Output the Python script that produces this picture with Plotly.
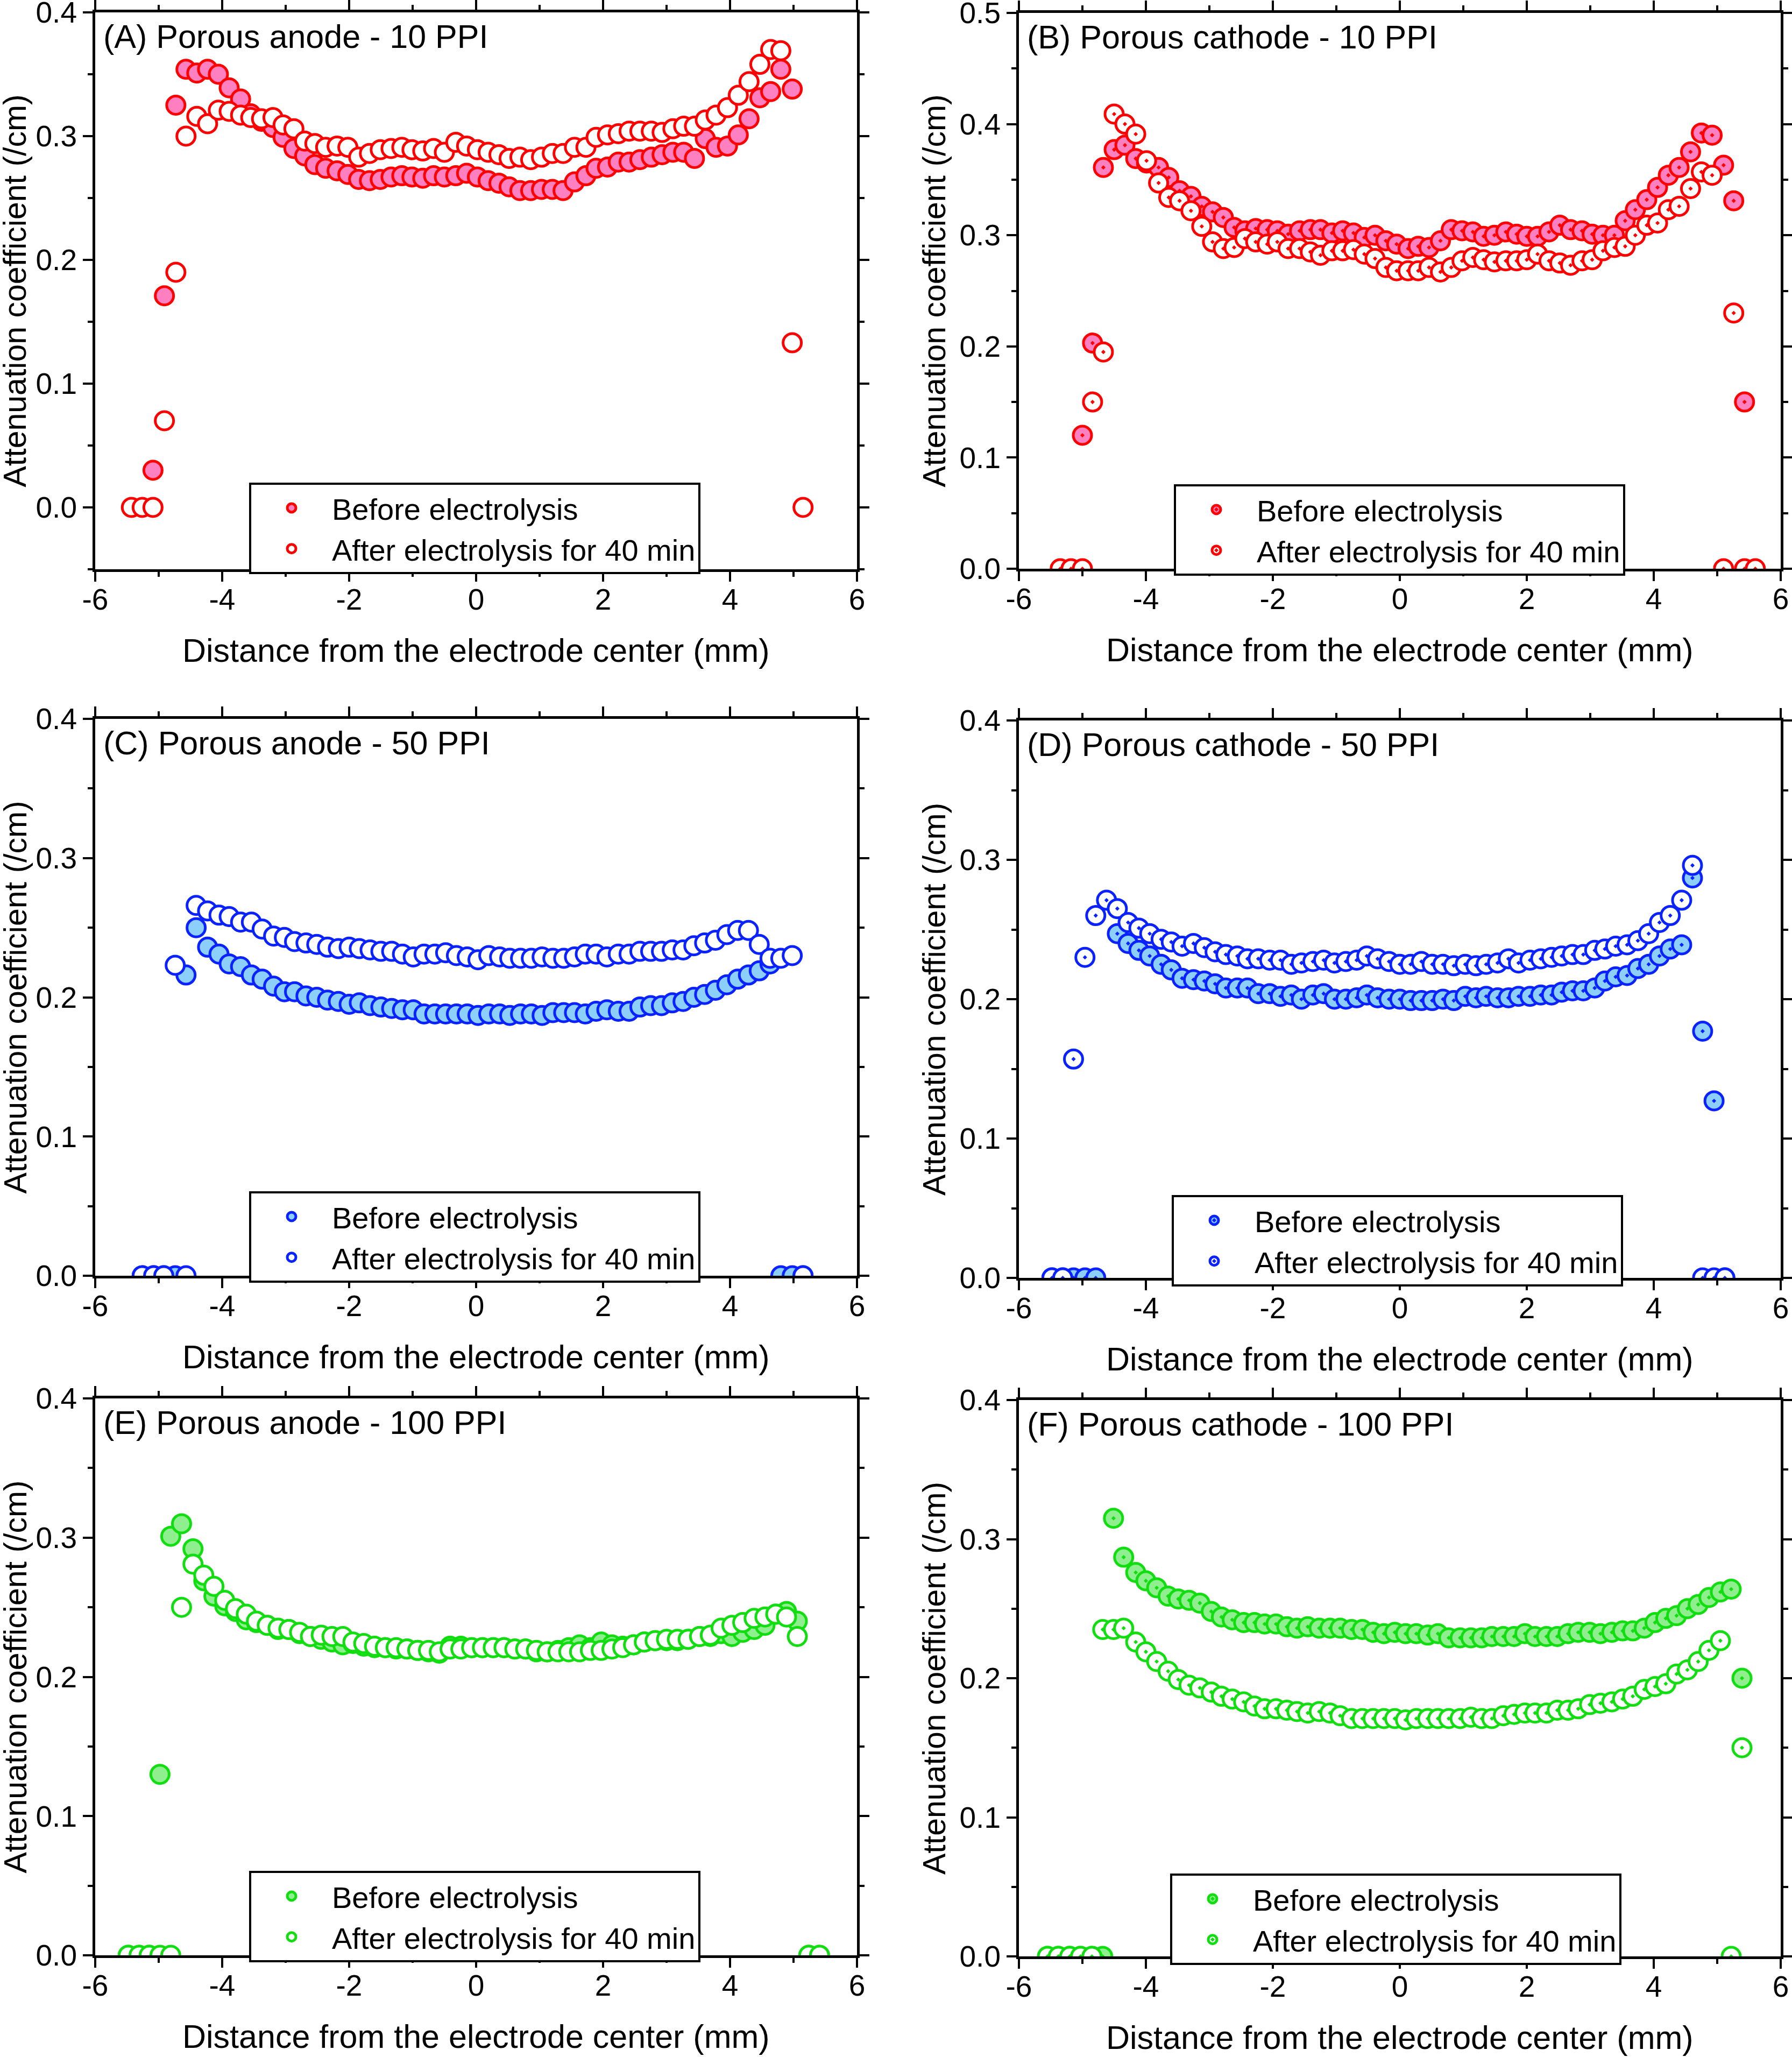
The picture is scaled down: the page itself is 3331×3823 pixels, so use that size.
import plotly.graph_objs as go

# ---- data (mm, 1/cm) ----
x_a = [-5.43, -5.26, -5.09, -4.91, -4.73, -4.57, -4.40, -4.23, -4.06, -3.89, -3.71, -3.55, -3.38,
       -3.20, -3.04, -2.87, -2.70, -2.54, -2.37, -2.19, -2.02, -1.85, -1.68, -1.51, -1.34, -1.17,
       -1.01, -0.84, -0.67, -0.50, -0.32, -0.15, 0.02, 0.19, 0.36, 0.52, 0.69, 0.86, 1.03, 1.20,
       1.37, 1.55, 1.73, 1.89, 2.07, 2.24, 2.41, 2.58, 2.76, 2.93, 3.10, 3.27, 3.44, 3.61, 3.78,
       3.96, 4.13, 4.30, 4.47, 4.64, 4.80, 4.98, 5.15]
a_before = [None, None, 0.030, 0.171, 0.325, 0.354, 0.351, 0.354, 0.350, 0.339, 0.330, 0.318, 0.312,
            0.307, 0.299, 0.290, 0.284, 0.277, 0.274, 0.272, 0.269, 0.265, 0.264, 0.265, 0.267, 0.268,
            0.267, 0.266, 0.268, 0.267, 0.268, 0.270, 0.267, 0.264, 0.262, 0.259, 0.256, 0.256, 0.257,
            0.257, 0.256, 0.263, 0.268, 0.274, 0.275, 0.279, 0.279, 0.281, 0.283, 0.285, 0.287, 0.287,
            0.282, 0.298, 0.291, 0.292, 0.301, 0.314, 0.331, 0.336, 0.354, 0.338, None]
a_after = [0.0, 0.0, 0.0, 0.070, 0.190, 0.300, 0.316, 0.310, 0.321, 0.320, 0.317, 0.315, 0.314,
           0.315, 0.309, 0.306, 0.296, 0.294, 0.291, 0.292, 0.291, 0.283, 0.286, 0.289, 0.290, 0.291,
           0.289, 0.288, 0.290, 0.287, 0.295, 0.292, 0.289, 0.287, 0.285, 0.282, 0.283, 0.281, 0.283,
           0.286, 0.286, 0.291, 0.291, 0.299, 0.301, 0.302, 0.304, 0.304, 0.304, 0.303, 0.306, 0.308,
           0.308, 0.313, 0.317, 0.323, 0.333, 0.344, 0.358, 0.370, 0.369, 0.133, 0.0]

x_b = [-5.35, -5.18, -5.00, -4.84, -4.67, -4.50, -4.33, -4.16, -3.99, -3.80, -3.64, -3.47, -3.29,
       -3.12, -2.95, -2.78, -2.61, -2.44, -2.27, -2.09, -1.93, -1.76, -1.58, -1.41, -1.25, -1.07,
       -0.90, -0.73, -0.56, -0.39, -0.22, -0.05, 0.13, 0.29, 0.46, 0.64, 0.81, 0.98, 1.15, 1.32,
       1.49, 1.67, 1.84, 2.00, 2.17, 2.35, 2.52, 2.69, 2.87, 3.03, 3.20, 3.38, 3.55, 3.71, 3.89,
       4.06, 4.23, 4.40, 4.58, 4.75, 4.92, 5.10, 5.26, 5.43, 5.60]
b_before = [None, None, 0.120, 0.203, 0.361, 0.377, 0.381, 0.369, 0.365, 0.361, 0.352, 0.340, 0.335,
            0.326, 0.321, 0.316, 0.307, 0.304, 0.306, 0.305, 0.304, 0.301, 0.304, 0.305, 0.305, 0.302,
            0.304, 0.302, 0.298, 0.300, 0.295, 0.292, 0.288, 0.290, 0.289, 0.295, 0.305, 0.304, 0.303,
            0.299, 0.300, 0.303, 0.301, 0.299, 0.299, 0.303, 0.309, 0.305, 0.304, 0.301, 0.300, 0.300,
            0.313, 0.323, 0.332, 0.343, 0.354, 0.361, 0.375, 0.392, 0.390, 0.363, 0.331, 0.150, None]
b_after = [0.0, 0.0, 0.0, 0.150, 0.195, 0.409, 0.400, 0.391, 0.367, 0.347, 0.334, 0.331, 0.322,
           0.308, 0.294, 0.288, 0.289, 0.297, 0.294, 0.292, 0.294, 0.288, 0.288, 0.285, 0.282, 0.286,
           0.286, 0.287, 0.283, 0.279, 0.271, 0.268, 0.268, 0.268, 0.271, 0.267, 0.271, 0.277, 0.280,
           0.278, 0.276, 0.277, 0.277, 0.278, 0.283, 0.277, 0.275, 0.273, 0.277, 0.278, 0.286, 0.289,
           0.290, 0.300, 0.309, 0.311, 0.323, 0.326, 0.342, 0.357, 0.354, 0.0, 0.230, 0.0, 0.0]

x_c = [-5.26, -5.08, -4.92, -4.74, -4.57, -4.41, -4.23, -4.05, -3.89, -3.71, -3.54, -3.37, -3.19,
       -3.02, -2.86, -2.68, -2.51, -2.34, -2.17, -2.00, -1.84, -1.67, -1.50, -1.33, -1.16, -0.99,
       -0.82, -0.65, -0.48, -0.31, -0.14, 0.03, 0.20, 0.37, 0.53, 0.70, 0.87, 1.04, 1.21, 1.38,
       1.55, 1.72, 1.89, 2.06, 2.24, 2.41, 2.58, 2.75, 2.92, 3.09, 3.26, 3.43, 3.60, 3.77, 3.95,
       4.12, 4.29, 4.46, 4.63, 4.80, 4.98, 5.15]
c_before = [0.0, 0.0, 0.0, 0.0, 0.216, 0.250, 0.236, 0.231, 0.224, 0.222, 0.216, 0.213, 0.208,
            0.204, 0.204, 0.201, 0.200, 0.198, 0.197, 0.195, 0.196, 0.194, 0.193, 0.192, 0.191, 0.191,
            0.188, 0.188, 0.188, 0.188, 0.188, 0.187, 0.188, 0.188, 0.187, 0.188, 0.188, 0.187, 0.189,
            0.189, 0.189, 0.188, 0.190, 0.191, 0.190, 0.190, 0.193, 0.194, 0.194, 0.196, 0.197, 0.200,
            0.202, 0.205, 0.209, 0.213, 0.216, 0.219, 0.224, 0.0, 0.0, 0.0]
c_after = [0.0, 0.0, 0.0, 0.223, 0.0, 0.266, 0.262, 0.259, 0.258, 0.254, 0.254, 0.249, 0.244,
           0.243, 0.240, 0.239, 0.238, 0.236, 0.235, 0.236, 0.235, 0.234, 0.233, 0.233, 0.231, 0.229,
           0.231, 0.231, 0.232, 0.230, 0.229, 0.227, 0.230, 0.229, 0.228, 0.228, 0.228, 0.229, 0.228,
           0.228, 0.229, 0.231, 0.231, 0.229, 0.231, 0.231, 0.233, 0.233, 0.233, 0.234, 0.234, 0.237,
           0.239, 0.241, 0.245, 0.248, 0.248, 0.238, 0.228, 0.228, 0.230, 0.0]

x_d = [-5.48, -5.31, -5.14, -4.96, -4.79, -4.62, -4.45, -4.28, -4.11, -3.94, -3.76, -3.60, -3.43,
       -3.25, -3.08, -2.91, -2.74, -2.56, -2.40, -2.23, -2.05, -1.88, -1.71, -1.55, -1.37, -1.20,
       -1.03, -0.85, -0.68, -0.52, -0.35, -0.17, 0.00, 0.17, 0.34, 0.51, 0.68, 0.85, 1.03, 1.20,
       1.36, 1.54, 1.71, 1.87, 2.05, 2.22, 2.39, 2.55, 2.72, 2.89, 3.07, 3.23, 3.40, 3.58, 3.75,
       3.92, 4.09, 4.26, 4.44, 4.61, 4.77, 4.95, 5.12]
d_before = [0.0, 0.0, 0.0, 0.0, 0.0, None, 0.247, 0.240, 0.235, 0.231, 0.225, 0.221, 0.215,
            0.214, 0.213, 0.211, 0.208, 0.208, 0.208, 0.204, 0.204, 0.202, 0.203, 0.200, 0.203, 0.204,
            0.200, 0.200, 0.201, 0.203, 0.201, 0.200, 0.200, 0.199, 0.199, 0.199, 0.200, 0.199, 0.202,
            0.201, 0.202, 0.201, 0.201, 0.202, 0.202, 0.203, 0.203, 0.205, 0.206, 0.206, 0.208, 0.213,
            0.216, 0.217, 0.222, 0.225, 0.231, 0.236, 0.239, 0.287, 0.177, 0.127, 0.0]
d_after = [0.0, 0.0, 0.157, 0.230, 0.260, 0.271, 0.265, 0.255, 0.251, 0.247, 0.243, 0.241, 0.238,
           0.240, 0.237, 0.234, 0.232, 0.231, 0.229, 0.229, 0.228, 0.228, 0.225, 0.226, 0.227, 0.228,
           0.226, 0.227, 0.228, 0.231, 0.229, 0.227, 0.225, 0.225, 0.227, 0.225, 0.225, 0.224, 0.225,
           0.224, 0.225, 0.226, 0.229, 0.226, 0.228, 0.229, 0.230, 0.231, 0.232, 0.232, 0.235, 0.236,
           0.238, 0.239, 0.242, 0.247, 0.255, 0.260, 0.271, 0.296, 0.0, 0.0, 0.0]

x_e = [-5.48, -5.31, -5.15, -4.98, -4.81, -4.64, -4.46, -4.29, -4.13, -3.96, -3.79, -3.62, -3.46,
       -3.29, -3.12, -2.95, -2.78, -2.61, -2.44, -2.27, -2.10, -1.94, -1.77, -1.60, -1.43, -1.26,
       -1.09, -0.92, -0.75, -0.58, -0.41, -0.24, -0.07, 0.10, 0.27, 0.44, 0.61, 0.78, 0.95, 1.12,
       1.29, 1.46, 1.63, 1.80, 1.97, 2.14, 2.31, 2.48, 2.65, 2.82, 3.00, 3.17, 3.34, 3.52, 3.69,
       3.86, 4.03, 4.20, 4.38, 4.55, 4.72, 4.89, 5.06, 5.24, 5.41]
e_before = [0.0, 0.0, 0.0, 0.130, 0.301, 0.310, 0.292, 0.269, 0.258, 0.251, 0.247, 0.241, 0.239,
            0.237, 0.234, 0.234, 0.231, 0.229, 0.227, 0.225, 0.223, 0.224, 0.222, 0.221, 0.221, 0.220,
            0.220, 0.219, 0.218, 0.217, 0.222, 0.222, 0.221, 0.221, 0.221, 0.221, 0.220, 0.220, 0.218,
            0.218, 0.219, 0.221, 0.223, 0.221, 0.225, 0.223, 0.222, 0.223, 0.225, 0.226, 0.226, 0.226,
            0.227, 0.229, 0.229, 0.231, 0.229, 0.232, 0.234, 0.237, 0.245, 0.247, 0.240, 0.0, 0.0]
e_after = [0.0, 0.0, 0.0, 0.0, 0.0, 0.250, 0.281, 0.273, 0.265, 0.255, 0.249, 0.245, 0.240,
           0.237, 0.235, 0.234, 0.232, 0.229, 0.230, 0.229, 0.229, 0.225, 0.224, 0.222, 0.221, 0.221,
           0.220, 0.219, 0.219, 0.218, 0.220, 0.220, 0.221, 0.221, 0.221, 0.221, 0.220, 0.220, 0.219,
           0.218, 0.218, 0.218, 0.218, 0.219, 0.219, 0.220, 0.221, 0.223, 0.225, 0.226, 0.227, 0.227,
           0.227, 0.229, 0.230, 0.235, 0.237, 0.239, 0.242, 0.243, 0.245, 0.243, 0.229, 0.0, 0.0]

x_f = [-5.55, -5.38, -5.20, -5.03, -4.85, -4.68, -4.51, -4.35, -4.16, -4.00, -3.83, -3.65, -3.49,
       -3.32, -3.15, -2.97, -2.81, -2.64, -2.46, -2.29, -2.13, -1.95, -1.78, -1.62, -1.45, -1.27,
       -1.10, -0.94, -0.76, -0.59, -0.42, -0.25, -0.08, 0.09, 0.26, 0.44, 0.60, 0.77, 0.95, 1.12,
       1.29, 1.45, 1.63, 1.80, 1.97, 2.13, 2.31, 2.48, 2.65, 2.81, 2.99, 3.16, 3.34, 3.51, 3.67,
       3.85, 4.02, 4.19, 4.36, 4.53, 4.70, 4.87, 5.05, 5.22, 5.39]
f_before = [0.0, 0.0, 0.0, 0.0, 0.0, 0.0, 0.315, 0.287, 0.276, 0.270, 0.265, 0.259, 0.257,
            0.256, 0.254, 0.248, 0.244, 0.242, 0.240, 0.240, 0.239, 0.239, 0.237, 0.236, 0.237, 0.236,
            0.236, 0.236, 0.235, 0.235, 0.233, 0.232, 0.233, 0.232, 0.232, 0.231, 0.232, 0.229, 0.229,
            0.229, 0.229, 0.230, 0.230, 0.230, 0.232, 0.230, 0.230, 0.230, 0.232, 0.233, 0.233, 0.232,
            0.233, 0.234, 0.234, 0.236, 0.240, 0.243, 0.245, 0.250, 0.253, 0.258, 0.262, 0.264, 0.200]
f_after = [0.0, 0.0, 0.0, 0.0, 0.0, 0.235, 0.235, 0.236, 0.226, 0.219, 0.212, 0.205, 0.199,
           0.195, 0.193, 0.190, 0.187, 0.185, 0.183, 0.180, 0.178, 0.178, 0.177, 0.176, 0.175, 0.176,
           0.175, 0.173, 0.171, 0.171, 0.171, 0.171, 0.171, 0.170, 0.171, 0.171, 0.171, 0.171, 0.171,
           0.172, 0.171, 0.171, 0.173, 0.174, 0.175, 0.175, 0.175, 0.177, 0.177, 0.178, 0.181, 0.182,
           0.183, 0.185, 0.187, 0.192, 0.194, 0.196, 0.203, 0.206, 0.212, 0.220, 0.227, 0.0, 0.150]

panel_titles = ['(A) Porous anode - 10 PPI', '(B) Porous cathode - 10 PPI',
                '(C) Porous anode - 50 PPI', '(D) Porous cathode - 50 PPI',
                '(E) Porous anode - 100 PPI', '(F) Porous cathode - 100 PPI']
series_names = ['Before electrolysis', 'After electrolysis for 40 min']
y_ranges = [[-0.05, 0.4], [0, 0.5], [0, 0.4], [0, 0.4], [0, 0.4], [0, 0.4]]
y_tickvals = [0.0, 0.1, 0.2, 0.3, 0.4, 0.5]
y_ticktext = ['0.0', '0.1', '0.2', '0.3', '0.4', '0.5']
x_tickvals = [-6, -4, -2, 0, 2, 4, 6]
x_ticktext = ['-6', '-4', '-2', '0', '2', '4', '6']
x_title = 'Distance from the electrode center (mm)'
y_title = 'Attenuation coefficient (/cm)'

panels = [
    (x_a, a_before, a_after), (x_b, b_before, b_after),
    (x_c, c_before, c_after), (x_d, d_before, d_after),
    (x_e, e_before, e_after), (x_f, f_before, f_after),
]

# edge colour, fill colour
colours = [('#FF0000', '#FF80C0'), ('#FF0000', '#FF80C0'),
           ('#0A22FF', '#8CCFFA'), ('#0A22FF', '#8CCFFA'),
           ('#11DD11', '#8FEF8F'), ('#11DD11', '#8FEF8F')]

W, H = 3331, 3823
FONT = 'Liberation Sans, Arial, Helvetica, sans-serif'


def px_x(v):
    return v / W


def px_y(v):
    return 1 - v / H


# plot-area boxes in pixels: left, right, top, bottom
boxes = [(177, 1593, 23, 1058), (1894, 3310, 24, 1057),
         (177, 1593, 1336, 2371), (1894, 3310, 1339, 2375),
         (177, 1593, 2599, 3634), (1894, 3310, 2602, 3636)]
legend_pos = [(463, 897), (2182, 900), (463, 2214), (2178, 2221), (463, 3477), (2175, 3482)]

fig = go.Figure()
layout = dict(
    width=W, height=H,
    margin=dict(l=0, r=0, t=0, b=0, autoexpand=False),
    paper_bgcolor='white', plot_bgcolor='white',
    font=dict(family=FONT, size=56, color='black'),
    showlegend=True,
)
annotations = []

for i, (xs, before, after) in enumerate(panels):
    n = i + 1
    xa = 'x' if n == 1 else 'x%d' % n
    ya = 'y' if n == 1 else 'y%d' % n
    leg = 'legend' if n == 1 else 'legend%d' % n
    edge, fill = colours[i]
    symbol = 'circle' if i % 2 == 0 else 'circle-dot'

    fig.add_trace(go.Scatter(
        x=xs, y=before, mode='markers', name=series_names[0],
        xaxis=xa, yaxis=ya, legend=leg,
        marker=dict(symbol=symbol, size=34, color=fill, line=dict(color=edge, width=5)),
    ))
    fig.add_trace(go.Scatter(
        x=xs, y=after, mode='markers', name=series_names[1],
        xaxis=xa, yaxis=ya, legend=leg,
        marker=dict(symbol=symbol, size=34, color='white', line=dict(color=edge, width=5)),
    ))

    l, r, t, b = boxes[i]
    key = '' if n == 1 else str(n)
    common = dict(
        showline=True, linecolor='black', linewidth=5, mirror='ticks',
        ticks='outside', ticklen=18, tickwidth=4, tickcolor='black',
        showgrid=False, zeroline=False, automargin=False,
        ticklabeloverflow='allow',
        tickfont=dict(family=FONT, size=55),
    )
    layout['xaxis' + key] = dict(
        common, domain=[px_x(l), px_x(r)], anchor=ya, range=[-6, 6],
        tickmode='array', tickvals=x_tickvals, ticktext=x_ticktext, ticklabelstandoff=-14,
        minor=dict(ticks='outside', ticklen=9, tickwidth=4, tickcolor='black', dtick=1, tick0=0),
    )
    layout['yaxis' + key] = dict(
        common, domain=[px_y(b), px_y(t)], anchor=xa, range=y_ranges[i],
        tickmode='array', tickvals=y_tickvals, ticktext=y_ticktext, ticklabelstandoff=0,
        minor=dict(ticks='outside', ticklen=9, tickwidth=4, tickcolor='black', dtick=0.05, tick0=0),
    )

    lx, ly = legend_pos[i]
    layout[leg] = dict(
        x=px_x(lx), y=px_y(ly), xanchor='left', yanchor='top',
        bgcolor='white', bordercolor='black', borderwidth=4,
        font=dict(family=FONT, size=56), itemsizing='trace', itemwidth=140,
        tracegroupgap=0,
    )

    # panel label inside the plot area
    annotations.append(dict(
        text=panel_titles[i], xref=xa + ' domain', yref=ya + ' domain',
        x=0.009, y=1 - 45 / (b - t), xanchor='left', yanchor='middle', showarrow=False,
        font=dict(family=FONT, size=61),
    ))
    # axis titles
    annotations.append(dict(
        text=x_title, xref='paper', yref='paper',
        x=px_x((l + r) / 2), y=px_y(b + 151), xanchor='center', yanchor='middle',
        showarrow=False, font=dict(family=FONT, size=61),
    ))
    y_title_x = 28 if i % 2 == 0 else l - 157
    annotations.append(dict(
        text=y_title, xref='paper', yref='paper', textangle=-90,
        x=px_x(y_title_x), y=px_y((t + b) / 2), xanchor='center', yanchor='middle',
        showarrow=False, font=dict(family=FONT, size=59),
    ))

layout['annotations'] = annotations
fig.update_layout(**layout)
# drop the page's default body margin so the figure sits at the window corner
fig.write_html('out.html', config={'displayModeBar': False},
               post_script="document.body.style.margin = '0';")
